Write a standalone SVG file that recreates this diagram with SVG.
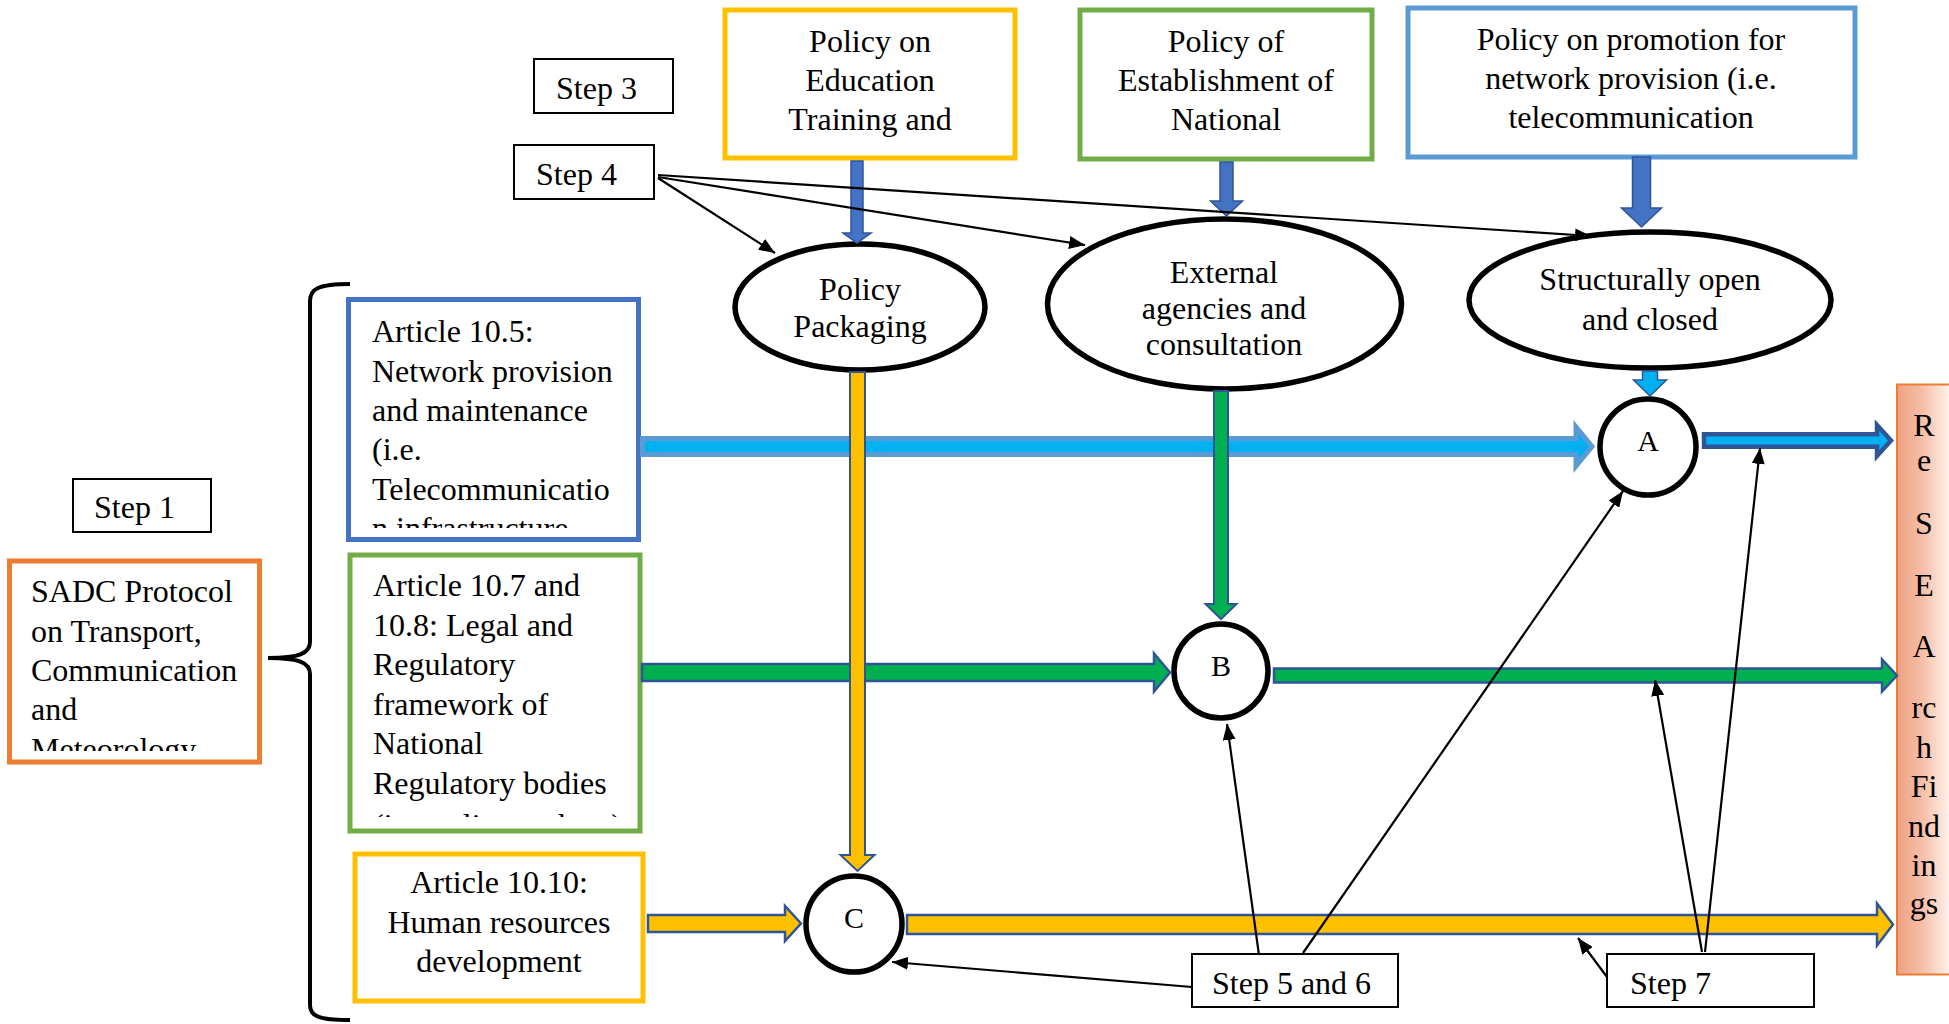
<svg xmlns="http://www.w3.org/2000/svg" width="1949" height="1024" viewBox="0 0 1949 1024">
  <defs>
    <style>
      text { font-family: "Liberation Serif", "Times New Roman", serif; font-size: 32px; fill: #000; }
      .c { text-anchor: middle; }
      .letter { font-size: 30px; text-anchor: middle; }
      .step { fill: #fff; stroke: #000; stroke-width: 2; }
      .box { fill: #fff; stroke-width: 5; }
      .oval { fill: #fff; stroke: #000; stroke-width: 5.5; }
      .thin { fill: none; stroke: #000; stroke-width: 2.2; marker-end: url(#tip); }
      .navy { stroke: #2F5597; stroke-linejoin: miter; }
    </style>
    <marker id="tip" viewBox="0 0 16 13" refX="16" refY="6.5" markerWidth="16" markerHeight="13" markerUnits="userSpaceOnUse" orient="auto">
      <path d="M0,0 L16,6.5 L0,13 z" fill="#000"/>
    </marker>
    <linearGradient id="salmon" gradientUnits="userSpaceOnUse" x1="1897" y1="0" x2="1952" y2="0">
      <stop offset="0" stop-color="#EEA183"/>
      <stop offset="0.45" stop-color="#F5BEA6"/>
      <stop offset="1" stop-color="#FFF6F2"/>
    </linearGradient>
    <clipPath id="clipSadc"><rect x="12" y="564" width="246" height="187"/></clipPath>
    <clipPath id="clipA105"><rect x="351" y="301" width="286" height="227"/></clipPath>
    <clipPath id="clipA107"><rect x="352" y="557" width="286" height="260"/></clipPath>
  </defs>

  <!-- step labels -->
  <g id="step3"><rect class="step" x="534" y="59" width="139" height="54"/><text x="556" y="99">Step 3</text></g>
  <g id="step4"><rect class="step" x="514" y="145" width="140" height="54"/><text x="536" y="185">Step 4</text></g>
  <g id="step1"><rect class="step" x="73" y="479" width="138" height="53"/><text x="94" y="518">Step 1</text></g>
  <g id="step56"><rect class="step" x="1192" y="954" width="206" height="53"/><text x="1212" y="994">Step 5 and 6</text></g>
  <g id="step7"><rect class="step" x="1607" y="954" width="207" height="53"/><text x="1630" y="994">Step 7</text></g>

  <!-- policy boxes -->
  <g id="policy-education">
    <rect class="box" x="725" y="10" width="290" height="148" stroke="#FFC000"/>
    <text class="c" x="870" y="52">Policy on</text>
    <text class="c" x="870" y="91">Education</text>
    <text class="c" x="870" y="130">Training and</text>
  </g>
  <g id="policy-establishment">
    <rect class="box" x="1080" y="10" width="292" height="149" stroke="#70AD47"/>
    <text class="c" x="1226" y="52">Policy of</text>
    <text class="c" x="1226" y="91">Establishment of</text>
    <text class="c" x="1226" y="130">National</text>
  </g>
  <g id="policy-promotion">
    <rect class="box" x="1408" y="8" width="447" height="149" stroke="#5B9BD5"/>
    <text class="c" x="1631" y="50">Policy on promotion for</text>
    <text class="c" x="1631" y="89">network provision (i.e.</text>
    <text class="c" x="1631" y="128">telecommunication</text>
  </g>

  <!-- process ovals -->
  <g id="policy-packaging">
    <ellipse class="oval" cx="860" cy="307" rx="125" ry="63"/>
    <text class="c" x="860" y="300">Policy</text>
    <text class="c" x="860" y="337">Packaging</text>
  </g>
  <g id="external-agencies">
    <ellipse class="oval" cx="1224.5" cy="304" rx="177" ry="85"/>
    <text class="c" x="1224" y="283">External</text>
    <text class="c" x="1224" y="319">agencies and</text>
    <text class="c" x="1224" y="355">consultation</text>
  </g>
  <g id="structurally-open">
    <ellipse class="oval" cx="1650" cy="300" rx="181" ry="68"/>
    <text class="c" x="1650" y="290">Structurally open</text>
    <text class="c" x="1650" y="330">and closed</text>
  </g>

  <!-- SADC protocol and its brace -->
  <g id="sadc-protocol">
    <rect class="box" x="9.5" y="561" width="250" height="201" stroke="#ED7D31"/>
    <g clip-path="url(#clipSadc)">
      <text x="31" y="602">SADC Protocol</text>
      <text x="31" y="642">on Transport,</text>
      <text x="31" y="681">Communication</text>
      <text x="31" y="720">and</text>
      <text x="31" y="760">Meteorology</text>
    </g>
  </g>
  <g id="brace">
    <path d="M350,284 C318,284 310,289 310,301 L310,642 C310,653 300,658 268,658 C300,658 310,663 310,674 L310,1005 C310,1016 318,1020 350,1020" fill="none" stroke="#000" stroke-width="4"/>
  </g>

  <!-- articles -->
  <g id="article-10-5">
    <rect class="box" x="348.5" y="299.5" width="290" height="240" stroke="#4472C4"/>
    <g clip-path="url(#clipA105)">
      <text x="372" y="342">Article 10.5:</text>
      <text x="372" y="382">Network provision</text>
      <text x="372" y="421">and maintenance</text>
      <text x="372" y="460">(i.e.</text>
      <text x="372" y="500">Telecommunicatio</text>
      <text x="372" y="539">n infrastructure</text>
    </g>
  </g>
  <g id="article-10-7">
    <rect class="box" x="350" y="555" width="290" height="276" stroke="#70AD47"/>
    <g clip-path="url(#clipA107)">
      <text x="373" y="596">Article 10.7 and</text>
      <text x="373" y="636">10.8: Legal and</text>
      <text x="373" y="675">Regulatory</text>
      <text x="373" y="715">framework of</text>
      <text x="373" y="754">National</text>
      <text x="373" y="794">Regulatory bodies</text>
      <text x="373" y="836">(i.e. policy makers)</text>
    </g>
  </g>
  <g id="article-10-10">
    <rect class="box" x="355" y="854" width="288" height="147" stroke="#FFC000"/>
    <text class="c" x="499" y="893">Article 10.10:</text>
    <text class="c" x="499" y="933">Human resources</text>
    <text class="c" x="499" y="972">development</text>
  </g>

  <!-- junctions -->
  <g id="junction-a"><circle class="oval" cx="1648" cy="447" r="48"/><text class="letter" x="1648" y="451">A</text></g>
  <g id="junction-b"><circle class="oval" cx="1221" cy="671" r="47"/><text class="letter" x="1221" y="676">B</text></g>
  <g id="junction-c"><circle class="oval" cx="854" cy="924" r="48"/><text class="letter" x="854" y="928">C</text></g>

  <!-- findings column -->
  <g id="research-findings">
    <rect x="1897" y="384.5" width="70" height="590" fill="url(#salmon)" stroke="#ED7D31" stroke-width="2"/>
    <text class="c" x="1924" y="436">R</text>
    <text class="c" x="1924" y="471">e</text>
    <text class="c" x="1924" y="534">S</text>
    <text class="c" x="1924" y="596">E</text>
    <text class="c" x="1924" y="657">A</text>
    <text class="c" x="1924" y="718">rc</text>
    <text class="c" x="1924" y="758">h</text>
    <text class="c" x="1924" y="797">Fi</text>
    <text class="c" x="1924" y="837">nd</text>
    <text class="c" x="1924" y="876">in</text>
    <text class="c" x="1924" y="914">gs</text>
  </g>

  <!-- connectors -->
  <g id="connectors">
    <!-- horizontal flows -->
    <polygon points="642.5,438.5 1576,438.5 1576,427 1592,446.5 1576,466 1576,454.5 642.5,454.5" fill="#00B0F0" stroke="#5B9BD5" stroke-width="5"/>
    <polygon class="navy" points="1704,434.25 1877,434.25 1877,425 1891,440.5 1877,456 1877,446.75 1704,446.75" fill="#00B0F0" stroke-width="4.5"/>
    <polygon class="navy" points="642,664 1154,664 1154,653.5 1170,672.5 1154,691.5 1154,681 642,681" fill="#00B050" stroke-width="2.5"/>
    <polygon class="navy" points="1274,668.5 1882,668.5 1882,659.5 1897,675.5 1882,691.5 1882,682.5 1274,682.5" fill="#00B050" stroke-width="2.5"/>
    <polygon class="navy" points="648,915 785,915 785,906 801,923.5 785,941 785,932 648,932" fill="#FFC000" stroke-width="2.5"/>
    <polygon class="navy" points="907,915 1877,915 1877,903.5 1893,924.5 1877,945.5 1877,934 907,934" fill="#FFC000" stroke-width="2.5"/>

    <!-- vertical flows -->
    <polygon class="navy" points="851,161 863,161 863,233 871,233 857,243 843,233 851,233" fill="#4472C4" stroke-width="1.5"/>
    <polygon class="navy" points="1220,162 1233,162 1233,201 1242.5,201 1226.5,216 1210.5,201 1220,201" fill="#4472C4" stroke-width="1.5"/>
    <polygon class="navy" points="1632.5,157 1650.5,157 1650.5,208 1661.5,208 1641.5,227 1621.5,208 1632.5,208" fill="#4472C4" stroke-width="1.5"/>
    <polygon class="navy" points="1642.5,371 1657.5,371 1657.5,380 1666.5,380 1650,396 1633.5,380 1642.5,380" fill="#00B0F0" stroke-width="1.5"/>
    <polygon class="navy" points="850,372 865,372 865,855 874.5,855 857.5,871 840.5,855 850,855" fill="#FFC000" stroke-width="2"/>
    <polygon class="navy" points="1214,391 1228,391 1228,604 1236.5,604 1221,619 1205.5,604 1214,604" fill="#00B050" stroke-width="2"/>

    <!-- step pointers -->
    <path class="thin" d="M658,178 L775,253"/>
    <path class="thin" d="M658,177 L1085,245"/>
    <path class="thin" d="M658,175 L1591,236"/>
    <path class="thin" d="M1192,987 L892,962"/>
    <path class="thin" d="M1259,955 L1227,724"/>
    <path class="thin" d="M1303,953 L1623,491"/>
    <path class="thin" d="M1607,977 L1578,938"/>
    <path class="thin" d="M1702,952 L1655,680"/>
    <path class="thin" d="M1705,952 L1760,448"/>
  </g>
</svg>
